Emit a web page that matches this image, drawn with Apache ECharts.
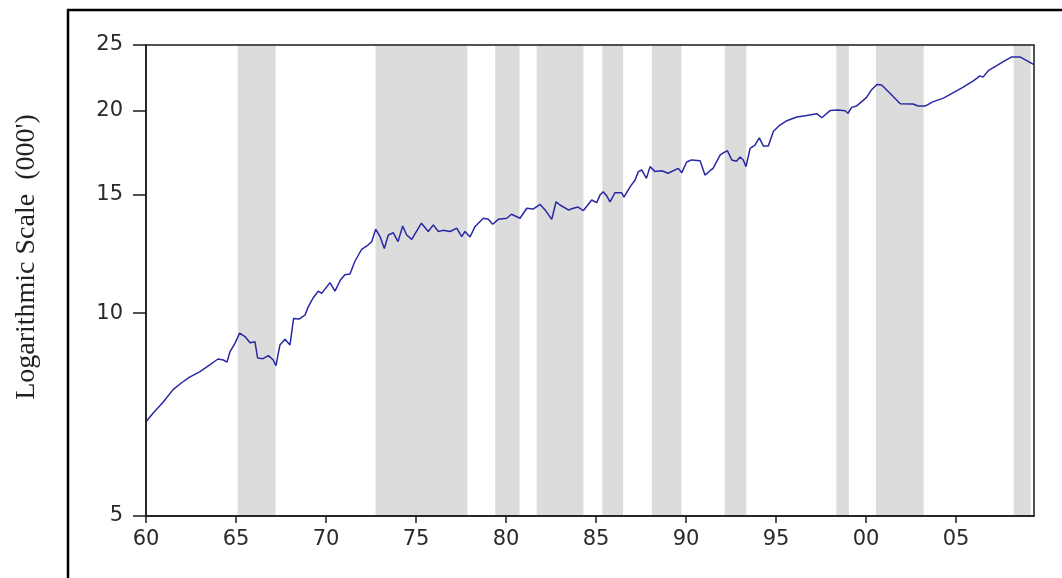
<!DOCTYPE html>
<html>
<head>
<meta charset="utf-8">
<script src="https://cdn.jsdelivr.net/npm/echarts@6/dist/echarts.min.js"></script>
<style>
  html, body { margin: 0; padding: 0; background: #ffffff; }
  #chart { width: 1062px; height: 578px; }
</style>
</head>
<body>
<div id="chart"></div>
<script>
// Time axis (decimal years) and level in thousands
const years = [
  1960.0, 1960.4, 1960.96, 1961.5, 1962.0, 1962.4, 1963.0, 1963.56, 1964.0, 1964.3,
  1964.5, 1964.67, 1964.94, 1965.2, 1965.5, 1965.78, 1966.05, 1966.2, 1966.5, 1966.8,
  1967.07, 1967.22, 1967.44, 1967.72, 1968.0, 1968.2, 1968.5, 1968.83, 1969.0, 1969.3,
  1969.57, 1969.76, 1970.22, 1970.5, 1970.8, 1971.05, 1971.33, 1971.6, 1971.98, 1972.35,
  1972.54, 1972.76, 1973.0, 1973.24, 1973.46, 1973.74, 1974.0, 1974.26, 1974.48, 1974.76,
  1975.3, 1975.68, 1975.96, 1976.24, 1976.5, 1976.9, 1977.26, 1977.54, 1977.72, 1978.0,
  1978.28, 1978.74, 1979.02, 1979.26, 1979.57, 1980.04, 1980.3, 1980.78, 1981.15, 1981.5,
  1981.9, 1982.17, 1982.54, 1982.78, 1983.0, 1983.46, 1983.74, 1984.0, 1984.3, 1984.76,
  1985.04, 1985.22, 1985.4, 1985.6, 1985.78, 1986.05, 1986.43, 1986.55, 1986.9, 1987.17,
  1987.35, 1987.54, 1987.8, 1988.0, 1988.28, 1988.65, 1989.0, 1989.57, 1989.76, 1990.04,
  1990.3, 1990.78, 1991.05, 1991.33, 1991.5, 1991.9, 1992.07, 1992.3, 1992.54, 1992.8,
  1993.0, 1993.18, 1993.33, 1993.56, 1993.83, 1994.07, 1994.3, 1994.57, 1994.85, 1995.2,
  1995.6, 1996.15, 1996.7, 1997.26, 1997.54, 1998.0, 1998.46, 1998.83, 1999.0, 1999.2,
  1999.48, 1999.76, 2000.03, 2000.3, 2000.6, 2000.87, 2001.33, 2001.9, 2002.6, 2002.9,
  2003.3, 2003.74, 2004.3, 2004.85, 2005.4, 2005.96, 2006.33, 2006.5, 2006.79, 2007.26,
  2007.6, 2008.09, 2008.55, 2008.93, 2009.3
];
const values = [
  6.90, 7.11, 7.38, 7.70, 7.89, 8.03, 8.19, 8.39, 8.55, 8.52,
  8.46, 8.77, 9.02, 9.34, 9.23, 9.04, 9.07, 8.58, 8.56, 8.65,
  8.52, 8.36, 8.97, 9.15, 8.97, 9.82, 9.80, 9.93, 10.2, 10.55,
  10.78, 10.70, 11.1, 10.78, 11.2, 11.4, 11.43, 11.93, 12.44, 12.63,
  12.77, 13.32, 12.99, 12.47, 13.06, 13.16, 12.77, 13.47, 13.06, 12.87,
  13.6, 13.22, 13.52, 13.22, 13.27, 13.22, 13.37, 12.99, 13.22, 12.97,
  13.45, 13.83, 13.78, 13.55, 13.78, 13.83, 14.02, 13.83, 14.31, 14.27,
  14.5, 14.23, 13.78, 14.63, 14.47, 14.23, 14.31, 14.37, 14.2, 14.72,
  14.59, 14.97, 15.14, 14.92, 14.63, 15.09, 15.09, 14.87, 15.41, 15.76,
  16.22, 16.31, 15.85, 16.5, 16.22, 16.27, 16.13, 16.4, 16.16, 16.76,
  16.88, 16.83, 16.03, 16.27, 16.4, 17.17, 17.29, 17.42, 16.88, 16.8,
  17.05, 16.88, 16.5, 17.56, 17.75, 18.2, 17.7, 17.7, 18.6, 19.0,
  19.3, 19.55, 19.65, 19.77, 19.5, 19.98, 20.02, 19.97, 19.8, 20.2,
  20.3, 20.6, 20.9, 21.44, 21.85, 21.8, 21.2, 20.45, 20.43, 20.3,
  20.3, 20.6, 20.85, 21.25, 21.65, 22.12, 22.5, 22.4, 22.9, 23.3,
  23.6, 24.0, 24.0, 23.7, 23.4
];

// Shaded periods (start / end, decimal years)
const bandStart = [1965.1, 1972.75, 1979.4, 1981.7, 1985.35, 1988.1, 1992.15, 1998.35, 2000.55, 2008.2];
const bandEnd   = [1967.2, 1977.85, 1980.75, 1984.3, 1986.5, 1989.75, 1993.35, 1999.05, 2003.2, 2009.15];

// Axis tick values
const xTicks = [1960, 1965, 1970, 1975, 1980, 1985, 1990, 1995, 2000, 2005];
const yTicks = [5, 10, 15, 20, 25];

const axisColor = '#1a1a1a';
const labelFont = { fontFamily: 'DejaVu Sans', fontSize: 21, color: '#2a2a2a' };

const chart = echarts.init(document.getElementById('chart'), null, { renderer: 'canvas' });

chart.setOption({
  animation: false,
  backgroundColor: '#ffffff',
  grid: {
    left: 146, top: 45, right: 28, bottom: 62,
    show: true, borderColor: axisColor, borderWidth: 1.5,
    backgroundColor: 'transparent', z: 3
  },
  xAxis: {
    type: 'value',
    min: 1960,
    max: 2009.33,
    z: 3,
    axisLine: { show: true, onZero: false, lineStyle: { color: axisColor, width: 1.5 } },
    axisTick: { show: true, inside: false, length: 7, customValues: xTicks, lineStyle: { color: axisColor, width: 1.5 } },
    axisLabel: Object.assign({
      customValues: xTicks,
      margin: 13,
      formatter: v => String(Math.round(v) % 100).padStart(2, '0')
    }, labelFont),
    splitLine: { show: false }
  },
  yAxis: {
    type: 'log',
    logBase: 10,
    min: 5,
    max: 25,
    z: 3,
    axisLine: { show: true, onZero: false, lineStyle: { color: axisColor, width: 1.5 } },
    axisTick: { show: true, inside: false, length: 13, customValues: yTicks, lineStyle: { color: axisColor, width: 1.5 } },
    axisLabel: Object.assign({
      customValues: yTicks,
      margin: 23,
      formatter: v => String(Math.round(v))
    }, labelFont),
    splitLine: { show: false },
    minorTick: { show: false },
    minorSplitLine: { show: false }
  },
  graphic: [
    {
      type: 'rect',
      silent: true,
      shape: { x: 68, y: 10, width: 1200, height: 800 },
      style: { fill: 'none', stroke: '#000000', lineWidth: 2.5 }
    },
    {
      type: 'text',
      silent: true,
      x: 27,
      y: 257,
      rotation: Math.PI / 2,
      style: {
        text: "Logarithmic Scale  (000')",
        fontFamily: 'Liberation Serif',
        fontSize: 28,
        fill: '#222222',
        align: 'center',
        verticalAlign: 'middle'
      }
    }
  ],
  series: [
    {
      name: 'periods',
      type: 'line',
      data: [],
      silent: true,
      z: 1,
      markArea: {
        silent: true,
        itemStyle: { color: '#dcdcdc' },
        data: bandStart.map((s, i) => [{ xAxis: s }, { xAxis: bandEnd[i] }])
      }
    },
    {
      name: 'level',
      type: 'line',
      z: 2,
      symbol: 'none',
      showSymbol: false,
      lineStyle: { color: '#2828a4', width: 1.5 },
      data: years.map((y, i) => [y, values[i]])
    }
  ]
});
</script>
</body>
</html>
